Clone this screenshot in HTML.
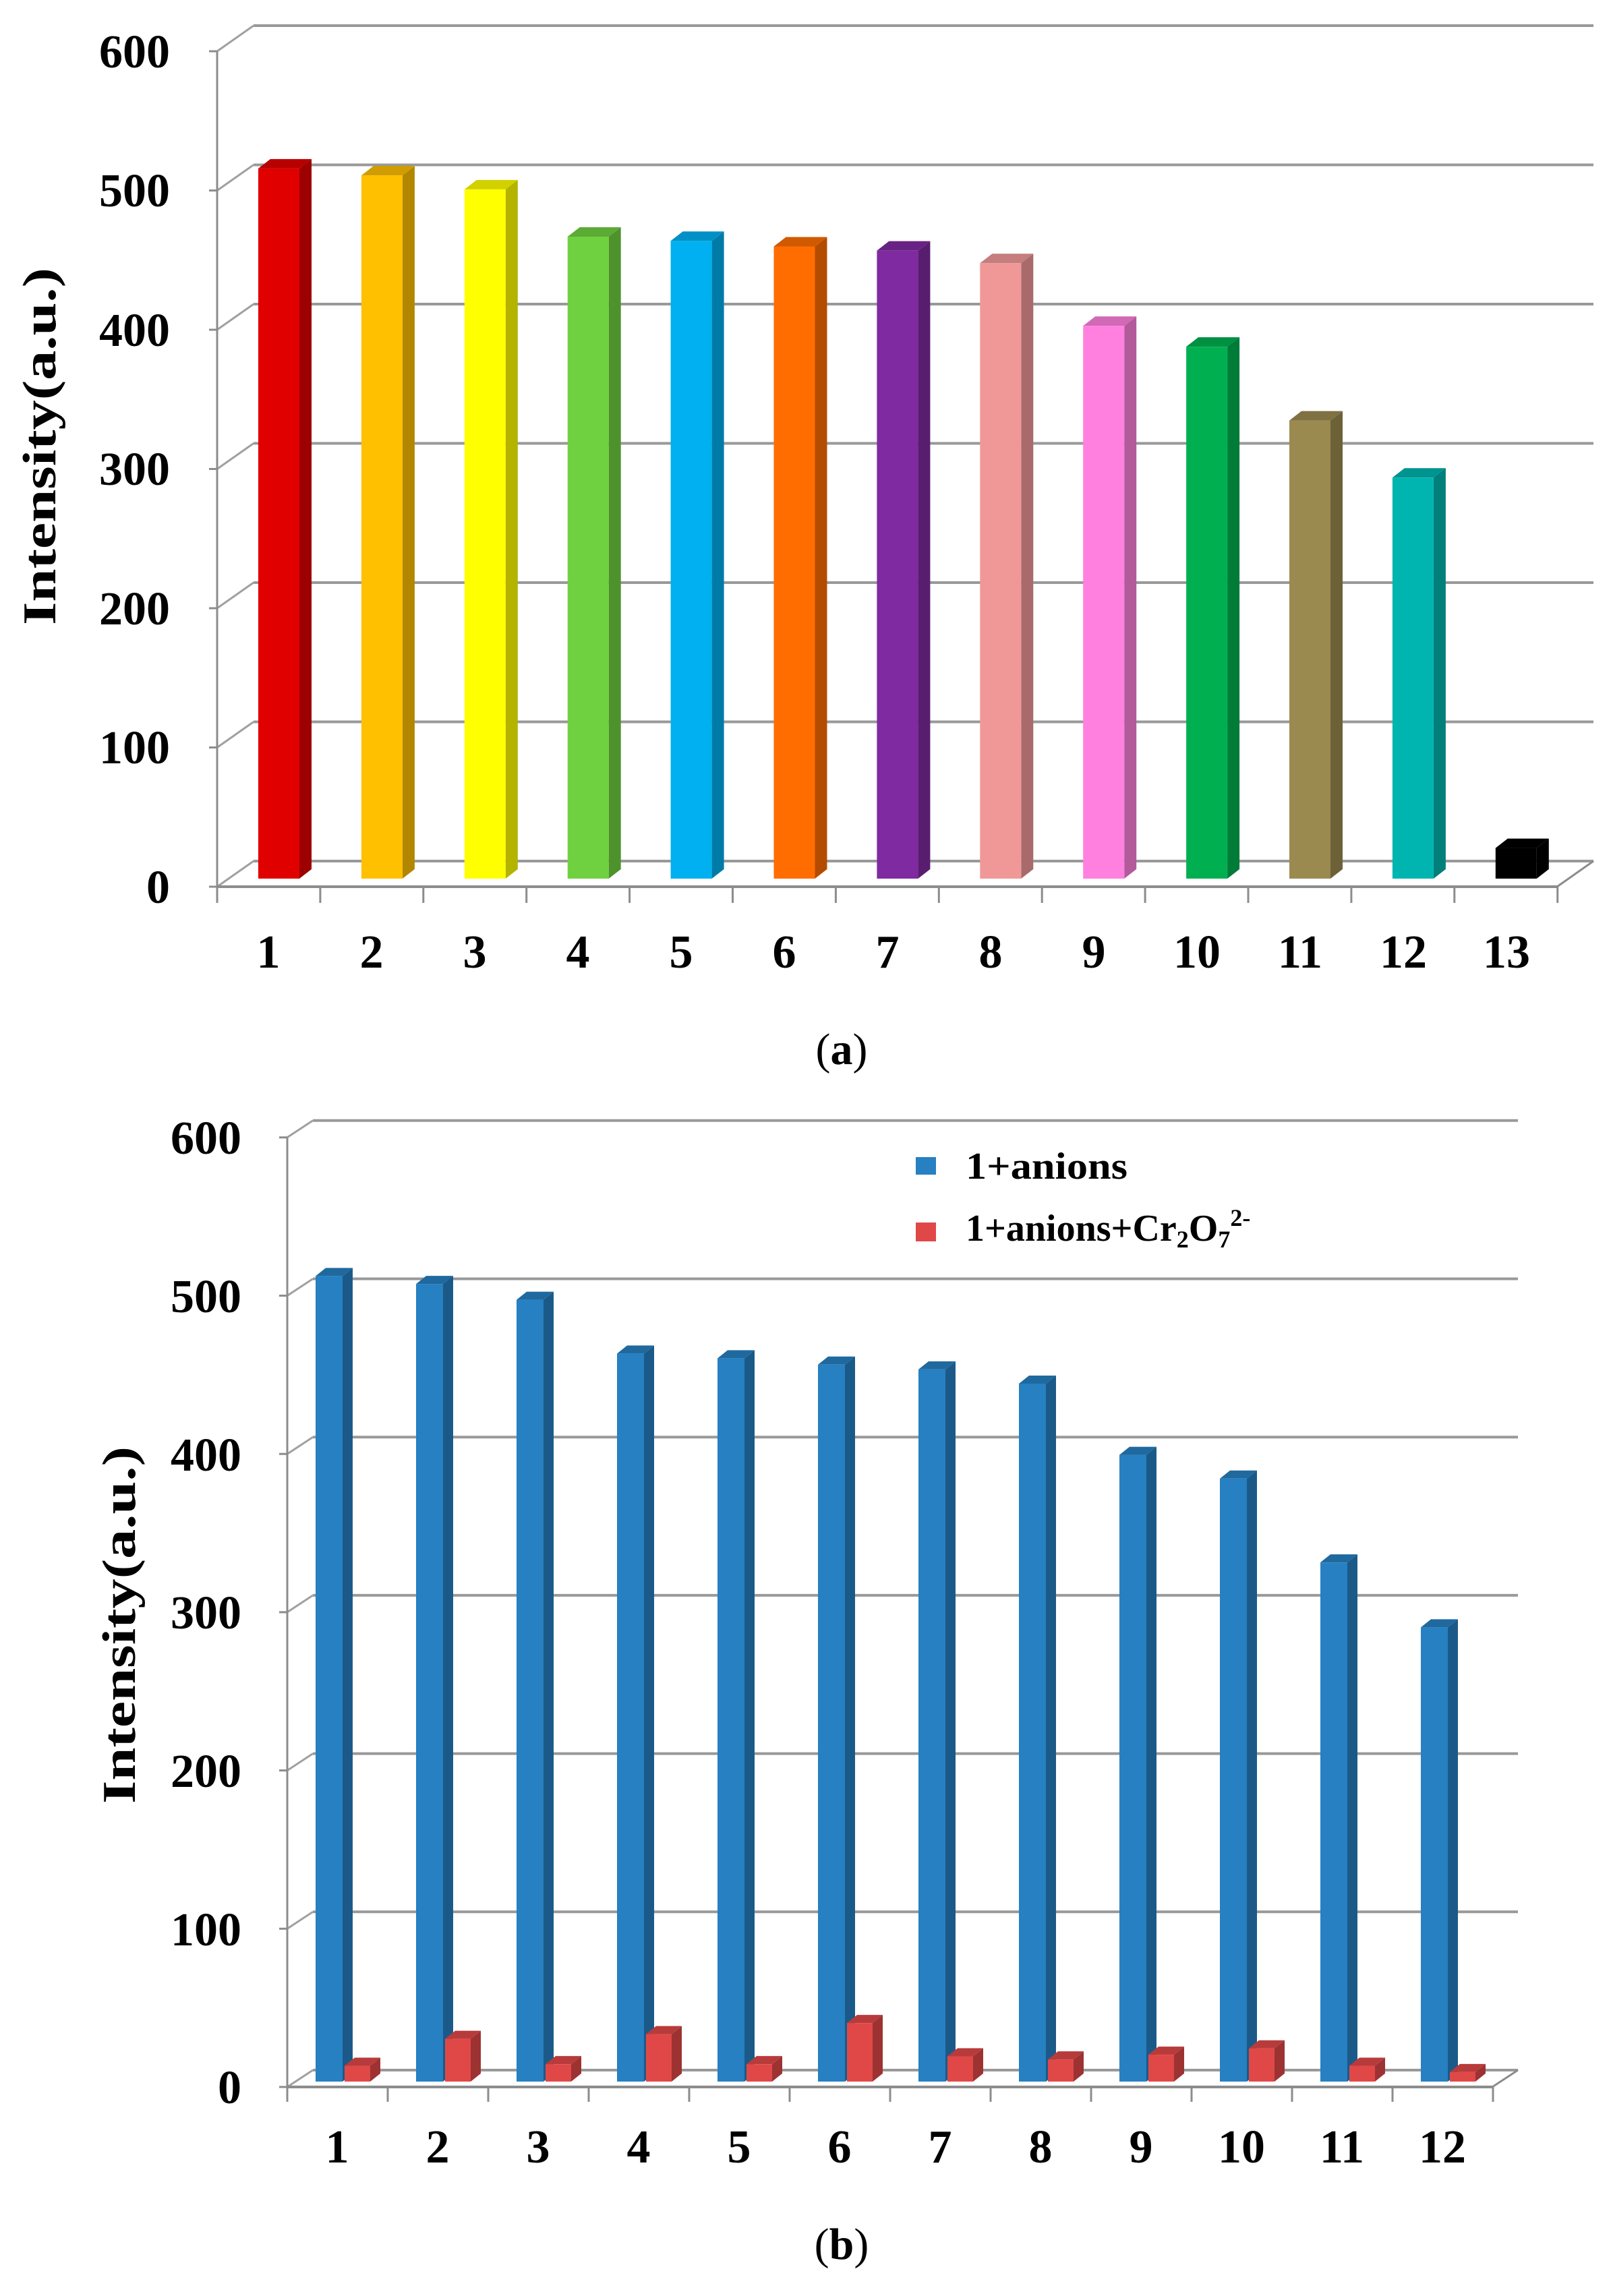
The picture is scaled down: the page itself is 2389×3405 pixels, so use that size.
<!DOCTYPE html>
<html><head><meta charset="utf-8"><style>
html,body{margin:0;padding:0;background:#fff}
svg{display:block}
text{font-family:"Liberation Serif",serif;font-weight:bold;fill:#000}
</style></head><body>
<svg id="s" width="2389" height="3405" viewBox="0 0 2389 3405" xmlns="http://www.w3.org/2000/svg">
<g id="g"></g>
<g font-size="70" text-anchor="end">
<text x="252" y="100">600</text>
<text x="252" y="306">500</text>
<text x="252" y="513">400</text>
<text x="252" y="719">300</text>
<text x="252" y="926">200</text>
<text x="252" y="1132">100</text>
<text x="252" y="1339">0</text>
</g>
<g font-size="70" text-anchor="middle">
<text x="398" y="1435">1</text><text x="551" y="1435">2</text><text x="704" y="1435">3</text>
<text x="857" y="1435">4</text><text x="1010" y="1435">5</text><text x="1163" y="1435">6</text>
<text x="1316" y="1435">7</text><text x="1469" y="1435">8</text><text x="1622" y="1435">9</text>
<text x="1775" y="1435">10</text><text x="1928" y="1435">11</text><text x="2081" y="1435">12</text>
<text x="2234" y="1435">13</text>
</g>
<text transform="translate(82,662) rotate(-90)" font-size="70" text-anchor="middle" textLength="530" lengthAdjust="spacingAndGlyphs">Intensity(a.u.)</text>
<text x="1248" y="1578" font-size="66" text-anchor="middle" style="font-weight:normal">(<tspan font-weight="bold">a</tspan>)</text>
<g font-size="70" text-anchor="end">
<text x="358" y="1711">600</text>
<text x="358" y="1946">500</text>
<text x="358" y="2181">400</text>
<text x="358" y="2415">300</text>
<text x="358" y="2650">200</text>
<text x="358" y="2885">100</text>
<text x="358" y="3119">0</text>
</g>
<g font-size="70" text-anchor="middle">
<text x="500" y="3207">1</text><text x="649" y="3207">2</text><text x="798" y="3207">3</text>
<text x="947" y="3207">4</text><text x="1096" y="3207">5</text><text x="1245" y="3207">6</text>
<text x="1394" y="3207">7</text><text x="1543" y="3207">8</text><text x="1692" y="3207">9</text>
<text x="1841" y="3207">10</text><text x="1990" y="3207">11</text><text x="2139" y="3207">12</text>
</g>
<text transform="translate(200,2410) rotate(-90)" font-size="70" text-anchor="middle" textLength="530" lengthAdjust="spacingAndGlyphs">Intensity(a.u.)</text>
<rect x="1358" y="1716" width="30" height="26" fill="#2680c2"/>
<rect x="1358" y="1813" width="30" height="28" fill="#e04848"/>
<text x="1432" y="1748" font-size="56" textLength="240" lengthAdjust="spacingAndGlyphs">1+anions</text>
<text x="1432" y="1840" font-size="56">1+anions+Cr<tspan font-size="36" dy="10">2</tspan><tspan dy="-10">O</tspan><tspan font-size="36" dy="10">7</tspan><tspan font-size="36" dy="-32">2-</tspan></text>
<text x="1248" y="3350" font-size="66" text-anchor="middle" style="font-weight:normal">(<tspan font-weight="bold">b</tspan>)</text>
</svg>
<script>
var g=document.getElementById('g'),NS='http://www.w3.org/2000/svg';
function el(t,a){var e=document.createElementNS(NS,t);for(var k in a)e.setAttribute(k,a[k]);g.appendChild(e);return e;}
function line(x1,y1,x2,y2,c,w){el('line',{x1:x1,y1:y1,x2:x2,y2:y2,stroke:c||'#8c8c8c','stroke-width':w||4});}
function shade(hex,f){var n=parseInt(hex.slice(1),16),r=n>>16,gg=(n>>8)&255,b=n&255;return 'rgb('+Math.round(r*f)+','+Math.round(gg*f)+','+Math.round(b*f)+')';}
function bar(x,w,bot,top,dx,dy,c){
 el('polygon',{points:(x+w)+','+bot+' '+(x+w+dx)+','+(bot-dy)+' '+(x+w+dx)+','+(top-dy)+' '+(x+w)+','+top,fill:shade(c,0.7)});
 el('polygon',{points:x+','+top+' '+(x+dx)+','+(top-dy)+' '+(x+w+dx)+','+(top-dy)+' '+(x+w)+','+top,fill:shade(c,0.82)});
 el('rect',{x:x,y:top,width:w,height:bot-top,fill:c});
}
function panel(ax,y0,per,dx,dy,right,floorR,nT,pitch,tickY){
 for(var v=0;v<=6;v++){var y=y0-v*per;
  line(ax,y,ax+dx,y-dy,'#a0a0a0',3);
  line(ax+dx,y-dy,right,y-dy,'#999',4);
  line(ax-12,y,ax,y,'#8c8c8c',3);}
 line(ax,y0,ax,y0-6*per,'#8c8c8c',3);
 line(ax,y0,floorR,y0,'#8c8c8c',4);
 line(floorR,y0,floorR+dx,y0-dy,'#8c8c8c',3);
 for(var k=0;k<=nT;k++){var x=ax+k*pitch;line(x,y0,x,y0+tickY,'#8c8c8c',3);}
}
panel(322,1315,206.5,54,38,2363,2309,13,152.9,24);
var va=[510,505,495,461,458,454,451,442,397,382,329,288,22];
var ca=['#e00000','#ffc000','#ffff00','#6fd13f','#00b0f0','#ff6d00','#7f2aa0','#f09898','#ff80de','#00b050','#9b8a50','#00b5b0','#000000'];
for(var i=0;i<13;i++){var x=383+i*152.9;bar(x,61,1303,1303-va[i]*2.065,18,14,ca[i]);}
panel(426,3095,234.7,38,25,2251,2213,12,149,22);
var vb=[509,504,494,460,457,453,450,441,396,381,328,287];
var vr=[10,27,11,30,11,37,16,14,17,21,10,6];
for(var i=0;i<12;i++){var x=468+i*149;
 bar(x,40,3087,3087-vb[i]*2.347,15,12,'#2680c2');
 bar(x+43,38,3087,3087-vr[i]*2.347,15,12,'#e04848');}
</script>
</body></html>
